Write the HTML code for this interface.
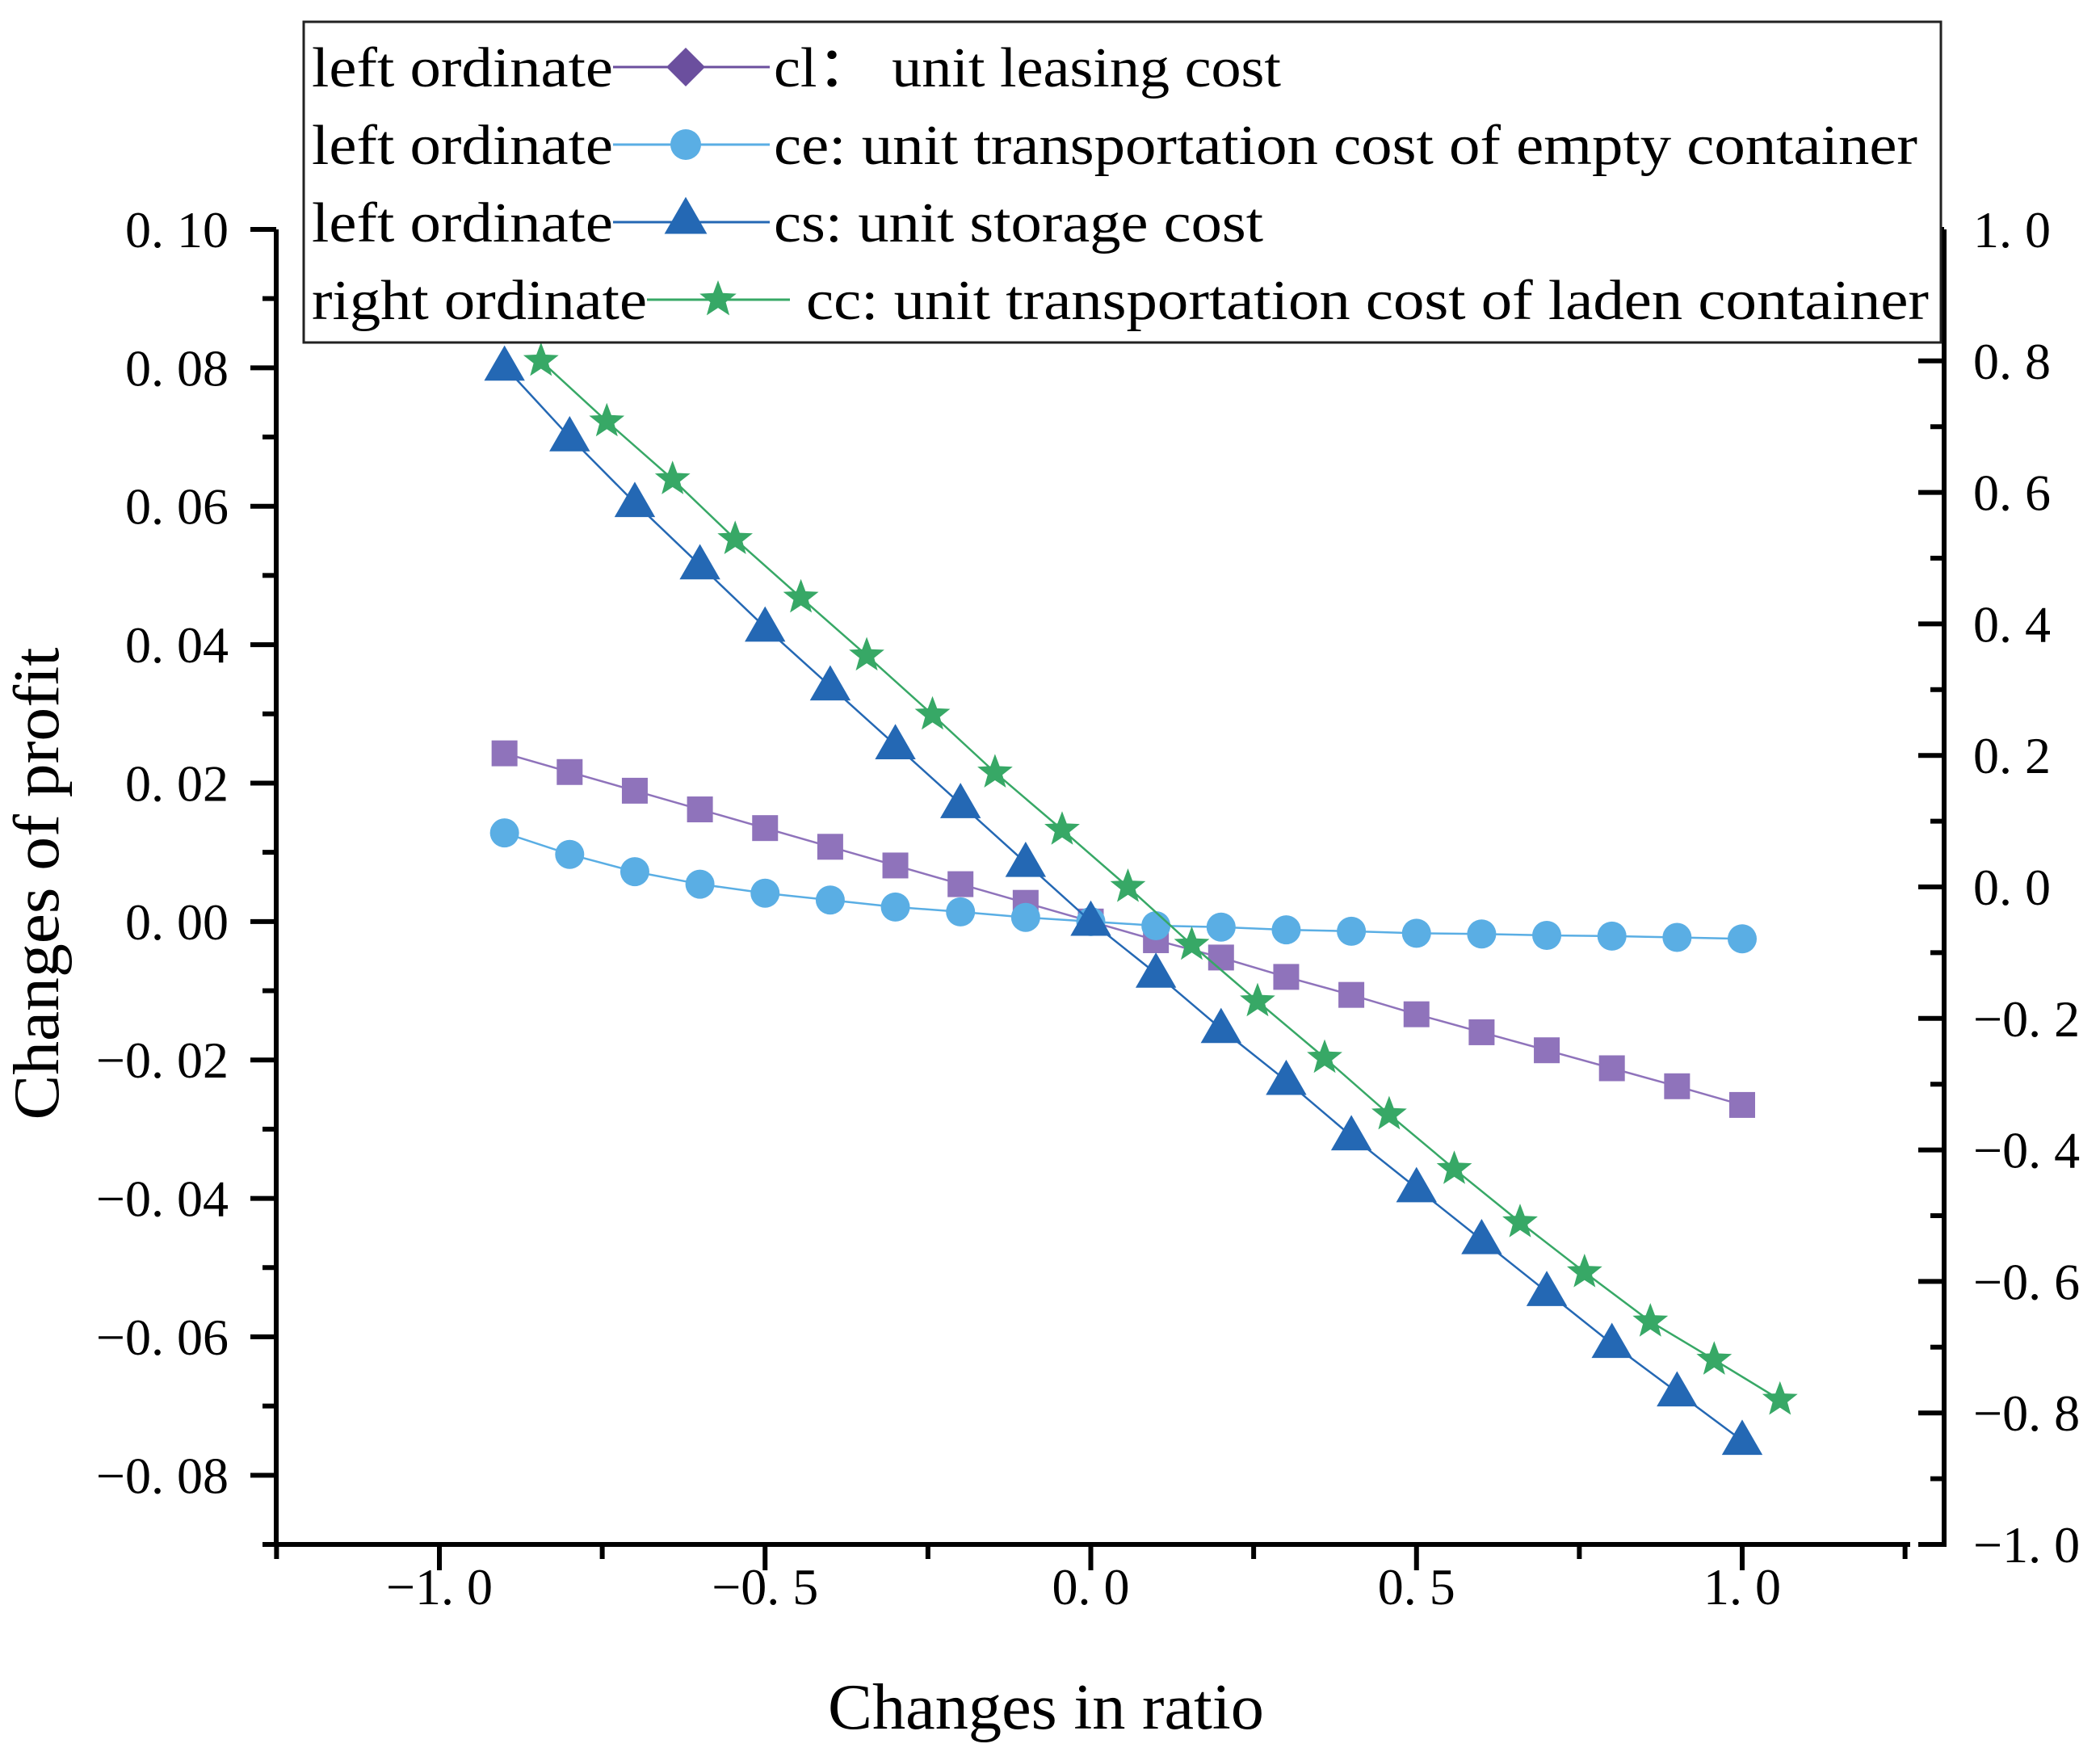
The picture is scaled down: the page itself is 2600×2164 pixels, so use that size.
<!DOCTYPE html>
<html><head><meta charset="utf-8"><style>
html,body{margin:0;padding:0;background:#fff;}
svg{display:block;}
text{font-family:"Liberation Serif",serif;fill:#000;}
</style></head><body>
<svg id="chart" width="2600" height="2164" viewBox="0 0 2600 2164" xmlns="http://www.w3.org/2000/svg">
<g id="axes"></g>
<g id="series"></g>
<g id="legend"></g>
<text x="1295" y="2140" font-size="80" text-anchor="middle" textLength="540" lengthAdjust="spacingAndGlyphs">Changes in ratio</text>
<text transform="translate(72,1094) rotate(-90)" font-size="80" text-anchor="middle" textLength="585" lengthAdjust="spacingAndGlyphs">Changes of profit</text>
</svg>
<script>
const xCats = [-0.9,-0.8,-0.7,-0.6,-0.5,-0.4,-0.3,-0.2,-0.1,0,0.1,0.2,0.3,0.4,0.5,0.6,0.7,0.8,0.9,1.0];
const clVals = [0.0243,0.0216,0.0189,0.0162,0.0135,0.0108,0.0081,0.0054,0.0027,0,-0.0027,-0.0052,-0.0080,-0.0106,-0.0134,-0.0160,-0.0186,-0.0212,-0.0238,-0.0265];
const ceVals = [0.0128,0.0097,0.0072,0.0054,0.0041,0.0031,0.0021,0.0014,0.0006,0,-0.0006,-0.0008,-0.0012,-0.0014,-0.0017,-0.0018,-0.0020,-0.0021,-0.0023,-0.0025];
const csVals = [0.0802,0.0700,0.0605,0.0515,0.0425,0.0340,0.0255,0.0170,0.0085,0,-0.0075,-0.0155,-0.0230,-0.0310,-0.0385,-0.0460,-0.0535,-0.0610,-0.0680,-0.0750];
const ccX = [-0.844,-0.743,-0.642,-0.546,-0.445,-0.344,-0.243,-0.147,-0.044,0.057,0.155,0.256,0.359,0.458,0.558,0.659,0.758,0.859,0.957,1.058];
const ccVals = [0.80,0.708,0.62,0.529,0.44,0.352,0.262,0.174,0.087,0,-0.088,-0.174,-0.26,-0.346,-0.429,-0.51,-0.586,-0.661,-0.719,-0.78];
const xTicks = [-1.0,-0.5,0.0,0.5,1.0];
const xTickLabels = ["\u22121. 0","\u22120. 5","0. 0","0. 5","1. 0"];
const yLTicks = [0.10,0.08,0.06,0.04,0.02,0,-0.02,-0.04,-0.06,-0.08];
const yLTickLabels = ["0. 10","0. 08","0. 06","0. 04","0. 02","0. 00","\u22120. 02","\u22120. 04","\u22120. 06","\u22120. 08"];
const yRTicks = [1.0,0.8,0.6,0.4,0.2,0,-0.2,-0.4,-0.6,-0.8,-1.0];
const yRTickLabels = ["1. 0","0. 8","0. 6","0. 4","0. 2","0. 0","\u22120. 2","\u22120. 4","\u22120. 6","\u22120. 8","\u22121. 0"];

const NS="http://www.w3.org/2000/svg";
const L=342, R=2407, XR=2362, T=284, B=1912;
const sx=v=>544+(v+1)*806.5;
const syL=v=>T+(0.10-v)/0.19*(B-T);
const syR=v=>T+(1-v)/2*(B-T);
function mk(tag,attrs,parent){const e=document.createElementNS(NS,tag);for(const k in attrs)e.setAttribute(k,attrs[k]);parent.appendChild(e);return e;}
const axes=document.getElementById('axes');
let e;
e=mk('line',{x1:L,y1:T,x2:L,y2:B+2,stroke:'#000','stroke-width':6},axes);


e=mk('line',{x1:L-3,y1:B,x2:XR+3,y2:B,stroke:'#000','stroke-width':6},axes);


e=mk('line',{x1:R,y1:T,x2:R,y2:B+3,stroke:'#000','stroke-width':6},axes);


for(let v=0.10;v>=-0.0901;v-=0.01){const y=syL(v);const major=Math.abs(Math.round(v*100))%2===0;mk('line',{x1:L,y1:y,x2:L-(major?32:17),y2:y,stroke:'#000','stroke-width':6},axes);}
yLTicks.forEach((v,i)=>{e=mk('text',{x:283,y:syL(v)+22,'font-size':64,'text-anchor':'end'},axes);e.textContent=yLTickLabels[i];

});
for(let k=0;k<=20;k++){const v=1-k*0.1;const y=syR(v);mk('line',{x1:R,y1:y,x2:R-(k%2===0?32:17),y2:y,stroke:'#000','stroke-width':6},axes);}
yRTicks.forEach((v,i)=>{e=mk('text',{x:2443,y:syR(v)+22,'font-size':64},axes);e.textContent=yRTickLabels[i];

});
for(let k=0;k<=10;k++){const v=-1.25+k*0.25;const x=sx(v);mk('line',{x1:x,y1:B,x2:x,y2:B+(k%2===1?32:18),stroke:'#000','stroke-width':6},axes);}
xTicks.forEach((v,i)=>{e=mk('text',{x:sx(v),y:1986,'font-size':64,'text-anchor':'middle'},axes);e.textContent=xTickLabels[i];

});

const ser=document.getElementById('series');
function line(xs,ys,color,name){const pts=xs.map((x,i)=>x+','+ys[i]).join(' ');const p=mk('polyline',{points:pts,fill:'none',stroke:color,'stroke-width':2.5},ser);

}
function star(cx,cy,r,color,parent){let pts=[];for(let i=0;i<10;i++){const a=-Math.PI/2+i*Math.PI/5;const rr=i%2?r*0.42:r;pts.push((cx+rr*Math.cos(a)).toFixed(1)+','+(cy+rr*Math.sin(a)).toFixed(1));}return mk('polygon',{points:pts.join(' '),fill:color},parent);}
function tri(cx,cy,s,color,parent){return mk('polygon',{points:`${cx},${cy-s*0.62} ${cx-s*0.6},${cy+s*0.42} ${cx+s*0.6},${cy+s*0.42}`,fill:color},parent);}
const clC='#8f73bb';
line(xCats.map(sx),clVals.map(syL),clC,'cl-line');
xCats.forEach((x,i)=>{e=mk('rect',{x:sx(x)-16,y:syL(clVals[i])-16,width:32,height:32,fill:clC},ser);

});
const ceC='#5aaee4';
line(xCats.map(sx),ceVals.map(syL),ceC,'ce-line');
xCats.forEach((x,i)=>{e=mk('circle',{cx:sx(x),cy:syL(ceVals[i]),r:18,fill:ceC},ser);

});
const csC='#2468b4';
line(xCats.map(sx),csVals.map(syL),csC,'cs-line');
xCats.forEach((x,i)=>{e=tri(sx(x),syL(csVals[i]),42,csC,ser);

});
const ccC='#37a866';
line(ccX.map(sx),ccVals.map(syR),ccC,'cc-line');
ccX.forEach((x,i)=>{e=star(sx(x),syR(ccVals[i]),23,ccC,ser);

});

const lg=document.getElementById('legend');
e=mk('rect',{x:376,y:27,width:2027,height:397,fill:'#fff',stroke:'#222','stroke-width':3},lg);


const rows=[
 {lab:'left ordinate',labW:373,l1:759,l2:953,m:849,c:'#6b4f9e',t:'cl\uFF1A unit leasing cost',tx:958,tw:628,mark:'diamond'},
 {lab:'left ordinate',labW:373,l1:759,l2:953,m:849,c:ceC,t:'ce: unit transportation cost of empty container',tx:958,tw:1416,mark:'circle'},
 {lab:'left ordinate',labW:373,l1:759,l2:953,m:849,c:csC,t:'cs: unit storage cost',tx:958,tw:606,mark:'tri'},
 {lab:'right ordinate',labW:415,l1:801,l2:978,m:889,c:ccC,t:'cc: unit transportation cost of laden container',tx:998,tw:1390,mark:'star'}];
rows.forEach((r,i)=>{const cy=83+i*96;
 e=mk('text',{x:386,y:cy+24,'font-size':70,textLength:r.labW,lengthAdjust:'spacingAndGlyphs'},lg);e.textContent=r.lab;
 
 
 mk('line',{x1:r.l1,y1:cy,x2:r.l2,y2:cy,stroke:r.c,'stroke-width':3},lg);
 if(r.mark==='diamond')mk('polygon',{points:`${r.m},${cy-24} ${r.m+24},${cy} ${r.m},${cy+24} ${r.m-24},${cy}`,fill:r.c},lg);
 else if(r.mark==='circle')mk('circle',{cx:r.m,cy:cy,r:19,fill:r.c},lg);
 else if(r.mark==='tri')tri(r.m,cy-4,44,r.c,lg);
 else star(r.m,cy,24,r.c,lg);
 e=mk('text',{x:r.tx,y:cy+24,'font-size':70,textLength:r.tw,lengthAdjust:'spacingAndGlyphs'},lg);e.textContent=r.t;
 
 
});
</script>
</body></html>
